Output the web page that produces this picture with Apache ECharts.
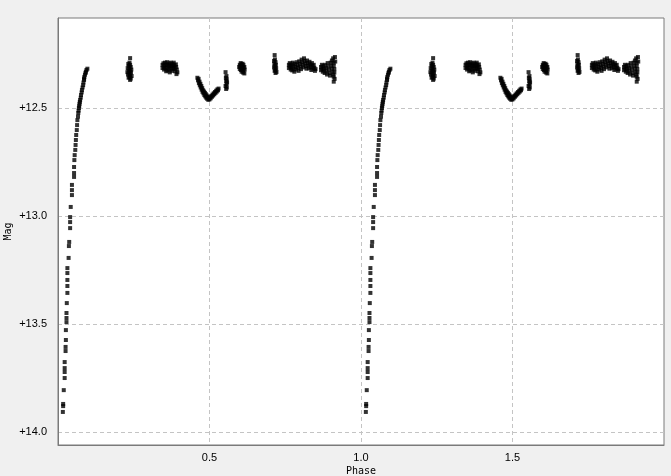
<!DOCTYPE html>
<html>
<head>
<meta charset="utf-8">
<script src="https://cdn.jsdelivr.net/npm/echarts@6/dist/echarts.min.js"></script>
<style>
html,body{margin:0;padding:0;background:#f0f0f0;}
#chart{width:671px;height:476px;}
</style>
</head>
<body>
<div id="chart"></div>
<script>
// Observations folded on phase [0,1): [phase, mag]
const egress = [
[0.097,12.318],[0.094,12.324],[0.092,12.332],[0.091,12.338],[0.089,12.346],[0.087,12.356],[0.086,12.364],[0.086,12.370],
[0.084,12.382],[0.083,12.394],[0.081,12.405],[0.079,12.417],[0.078,12.428],[0.076,12.440],[0.075,12.452],[0.073,12.463],
[0.072,12.472],[0.071,12.481],[0.070,12.491],[0.069,12.500],[0.068,12.512],[0.067,12.523],[0.066,12.540],[0.064,12.556],
[0.063,12.579],[0.062,12.602],[0.060,12.625],[0.059,12.648],[0.058,12.671],[0.057,12.694],[0.055,12.718],[0.054,12.741],
[0.053,12.773],[0.053,12.801],[0.053,12.819],[0.046,12.856],[0.046,12.880],[0.046,12.903],[0.042,12.958],[0.040,13.005],
[0.040,13.028],[0.040,13.056],[0.037,13.120],[0.036,13.139],[0.035,13.194],[0.031,13.241],[0.031,13.264],[0.031,13.296],
[0.031,13.324],[0.031,13.356],[0.029,13.403],[0.028,13.449],[0.028,13.472],[0.028,13.491],[0.026,13.528],[0.026,13.574],
[0.025,13.606],[0.025,13.625],[0.022,13.676],[0.022,13.704],[0.022,13.722],[0.022,13.750],[0.019,13.806],[0.017,13.870],
[0.017,13.880],[0.016,13.907]
];
const clusterA = [
[0.238,12.269],[0.236,12.290],[0.232,12.296],[0.238,12.300],[0.234,12.305],[0.240,12.310],[0.230,12.315],[0.236,12.318],
[0.242,12.322],[0.233,12.326],[0.238,12.330],[0.229,12.334],[0.241,12.336],[0.235,12.340],[0.231,12.345],[0.238,12.348],
[0.243,12.352],[0.236,12.356],[0.233,12.360],[0.240,12.364],[0.238,12.370]
];
const clusterB = [
[0.345,12.300],[0.345,12.315],[0.348,12.293],[0.350,12.308],[0.350,12.322],[0.353,12.290],[0.355,12.302],[0.355,12.316],
[0.357,12.330],[0.360,12.288],[0.360,12.300],[0.362,12.312],[0.362,12.326],[0.365,12.294],[0.367,12.306],[0.367,12.320],
[0.369,12.335],[0.372,12.290],[0.372,12.302],[0.374,12.314],[0.375,12.328],[0.377,12.296],[0.379,12.308],[0.380,12.320],
[0.382,12.290],[0.384,12.302],[0.385,12.315],[0.386,12.330],[0.389,12.298],[0.390,12.310],[0.392,12.322],[0.394,12.335],
[0.391,12.343]
];
const secondary = [
[0.460,12.360],[0.462,12.372],[0.464,12.365],[0.465,12.385],[0.467,12.378],[0.468,12.395],[0.470,12.388],[0.471,12.405],
[0.473,12.398],[0.474,12.415],[0.476,12.408],[0.477,12.425],[0.479,12.418],[0.480,12.432],[0.482,12.424],[0.483,12.440],
[0.485,12.430],[0.486,12.446],[0.488,12.436],[0.489,12.452],[0.491,12.442],[0.492,12.457],[0.494,12.448],[0.496,12.462],
[0.498,12.455],[0.500,12.460],[0.502,12.450],[0.504,12.455],[0.506,12.444],[0.508,12.448],[0.510,12.438],[0.512,12.442],
[0.514,12.432],[0.516,12.436],[0.518,12.426],[0.520,12.430],[0.522,12.420],[0.524,12.424],[0.526,12.414],[0.528,12.418],
[0.530,12.410]
];
const clusterC = [
[0.553,12.334],[0.556,12.352],[0.554,12.360],[0.557,12.368],[0.555,12.375],[0.558,12.382],[0.556,12.390],[0.553,12.398],
[0.557,12.405],[0.555,12.412]
];
const clusterD = [
[0.600,12.300],[0.603,12.292],[0.606,12.298],[0.609,12.295],[0.612,12.300],[0.598,12.310],[0.602,12.306],[0.605,12.312],
[0.608,12.308],[0.612,12.314],[0.615,12.310],[0.600,12.320],[0.604,12.324],[0.608,12.320],[0.612,12.326],[0.616,12.322],
[0.606,12.332],[0.611,12.336],[0.615,12.340]
];
const clusterE = [
[0.715,12.255],[0.716,12.275],[0.713,12.282],[0.718,12.288],[0.714,12.295],[0.719,12.300],[0.716,12.306],[0.713,12.312],
[0.720,12.316],[0.717,12.322],[0.715,12.328],[0.721,12.333],[0.718,12.338]
];
const clusterF = [
[0.762,12.300],[0.762,12.315],[0.765,12.292],[0.766,12.308],[0.768,12.322],[0.770,12.298],[0.771,12.312],[0.773,12.326],
[0.775,12.290],[0.776,12.304],[0.778,12.318],[0.780,12.332],[0.782,12.296],[0.784,12.310],[0.786,12.322],[0.788,12.288],
[0.790,12.302],[0.792,12.314],[0.794,12.328],[0.796,12.284],[0.798,12.296],[0.800,12.308],[0.802,12.320],[0.804,12.276],
[0.806,12.288],[0.808,12.300],[0.810,12.312],[0.812,12.270],[0.814,12.282],[0.816,12.294],[0.818,12.306],[0.820,12.318],
[0.822,12.280],[0.824,12.292],[0.826,12.304],[0.828,12.316],[0.830,12.286],[0.832,12.298],[0.834,12.310],[0.836,12.324],
[0.838,12.292],[0.840,12.304],[0.842,12.318],[0.844,12.300],[0.846,12.314],[0.848,12.328],[0.850,12.320]
];
const clusterG = [
[0.868,12.310],[0.868,12.325],[0.871,12.300],[0.872,12.318],[0.874,12.332],[0.876,12.305],[0.878,12.320],[0.880,12.338],
[0.882,12.300],[0.884,12.315],[0.886,12.330],[0.888,12.345],[0.890,12.292],[0.892,12.308],[0.894,12.322],[0.896,12.338],
[0.898,12.350],[0.900,12.290],[0.902,12.304],[0.904,12.318],[0.906,12.332],[0.908,12.346],[0.904,12.280],[0.908,12.270],
[0.910,12.290],[0.910,12.305],[0.912,12.320],[0.912,12.336],[0.910,12.355],[0.913,12.365],[0.910,12.378],[0.914,12.264],
[0.915,12.285]
];
const yTickLabels = ['+12.5','+13.0','+13.5','+14.0'];
const xTickLabels = ['0.5','1.0','1.5'];

const cycle1 = [].concat(egress, clusterA, clusterB, secondary, clusterC, clusterD, clusterE, clusterF, clusterG);
// the phase plot shows the same folded data twice (phase and phase+1)
const cycle2 = cycle1.map(p => [p[0] + 1, p[1]]);

const chart = echarts.init(document.getElementById('chart'));
const font = '"Liberation Sans", Arial, sans-serif';
chart.setOption({
  backgroundColor: '#f0f0f0',
  animation: false,
  grid: {left: 58, top: 18, right: 7, bottom: 31, outerBoundsMode: 'none', containLabel: false,
    show: true, backgroundColor: '#ffffff', borderColor: '#7a7a7a', borderWidth: 1},
  xAxis: {
    type: 'value', min: 0, max: 2, splitNumber: 4,
    name: 'Phase', nameLocation: 'middle', nameGap: 21, nameMoveOverlap: false,
    nameTextStyle: {color: '#000', fontSize: 10, fontFamily: '"DejaVu Sans Mono", monospace'},
    axisLine: {show: true, lineStyle: {color: '#7a7a7a'}},
    axisTick: {show: false},
    axisLabel: {color: '#000', fontSize: 11, fontFamily: font, margin: 7, showMinLabel: false, showMaxLabel: false,
      formatter: v => { const s = v.toFixed(1); return xTickLabels.indexOf(s) >= 0 ? s : ''; }},
    splitLine: {show: true, showMinLine: false, showMaxLine: false, lineStyle: {color: '#c4c4c4', type: [4, 3]}}
  },
  yAxis: {
    type: 'value', inverse: true, min: 12.0833, max: 14.060, splitNumber: 4,
    name: 'Mag', nameLocation: 'middle', nameGap: 45, nameRotate: 90, nameMoveOverlap: false,
    nameTextStyle: {color: '#000', fontSize: 10, fontFamily: '"DejaVu Sans Mono", monospace'},
    axisLine: {show: true, lineStyle: {color: '#7a7a7a'}},
    axisTick: {show: false},
    axisLabel: {color: '#000', fontSize: 11, fontFamily: font, margin: 11, showMinLabel: false, showMaxLabel: false,
      formatter: v => { const s = '+' + v.toFixed(1); return yTickLabels.indexOf(s) >= 0 ? s : ''; }},
    splitLine: {show: true, showMinLine: false, showMaxLine: false, lineStyle: {color: '#c4c4c4', type: [4, 3]}}
  },
  series: [
    {type: 'scatter', data: cycle1, symbol: 'rect', symbolSize: [4, 4], itemStyle: {color: '#000'}, silent: true},
    {type: 'scatter', data: cycle2, symbol: 'rect', symbolSize: [4, 4], itemStyle: {color: '#000'}, silent: true}
  ]
});
</script>
</body>
</html>
